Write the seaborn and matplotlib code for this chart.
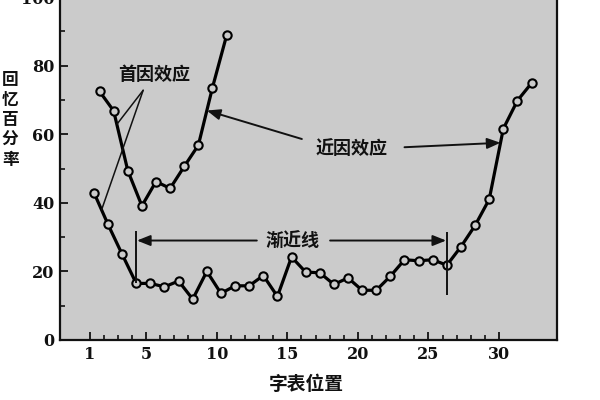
import numpy as np
import seaborn as sns
import matplotlib.pyplot as plt
from matplotlib.ticker import FixedLocator

# serial position curves
main_pos = list(range(1, 33))
main_recall = [43.0, 33.7, 25.0, 16.5, 16.5, 15.5, 17.2, 11.9, 20.0, 13.6,
               15.8, 15.8, 18.8, 12.7, 24.2, 19.8, 19.6, 16.2, 18.1, 14.5,
               14.5, 18.6, 23.4, 23.1, 23.4, 21.8, 27.2, 33.4, 41.0, 61.6,
               69.8, 74.9]
short_pos = list(range(1, 11))
short_recall = [72.5, 66.8, 49.4, 39.1, 46.2, 44.2, 50.6, 56.8, 73.6, 88.8]

x_ticks = [1, 5, 10, 15, 20, 25, 30]
y_ticks = [0, 20, 40, 60, 80, 100]

# the scan draws the curves a little right of the ticks
main_shift = 0.3
short_shift = 0.7

bg = '#cbcbcb'
cjk = ['Noto Sans CJK SC', 'DejaVu Sans']

sns.set_style('ticks')
plt.rcParams['font.family'] = ['DejaVu Serif', 'Noto Sans CJK SC']

fig = plt.figure(figsize=(6, 4), dpi=100)
ax = fig.add_axes([0.1, 0.15, 0.8283, 0.8575])
ax.set_facecolor(bg)

line_kw = dict(color='k', lw=2.3, marker='o', markersize=6,
               markerfacecolor=bg, markeredgecolor='k', markeredgewidth=1.5)
sns.lineplot(x=np.array(main_pos) + main_shift, y=main_recall, ax=ax, **line_kw)
sns.lineplot(x=np.array(short_pos) + short_shift, y=short_recall, ax=ax, **line_kw)

ax.set_xlim(-1.1, 34.1)
ax.set_ylim(0, 100)
ax.xaxis.set_major_locator(FixedLocator(x_ticks))
ax.xaxis.set_minor_locator(FixedLocator(range(1, 31)))
ax.yaxis.set_major_locator(FixedLocator(y_ticks))
ax.yaxis.set_minor_locator(FixedLocator(range(10, 100, 20)))
ax.tick_params(which='major', direction='in', length=6, width=1.3,
               labelsize=11.5, pad=4, colors='#111')
ax.tick_params(which='minor', direction='in', length=3.5, width=1.2, colors='#111')
for lab in ax.get_xticklabels() + ax.get_yticklabels():
    lab.set_fontweight('bold')
for s in ax.spines.values():
    s.set_linewidth(1.6)
    s.set_color('#111')
ax.set_xlabel('')
ax.set_ylabel('')

txt = dict(family=cjk, weight='bold', fontsize=13, color='#111', ha='center', va='center')

# primacy effect: two plain lines
ax.text(5.6, 77.4, '首因效应', **txt)
ax.annotate('', xy=(1.85, 38), xytext=(4.79, 72.8),
            arrowprops=dict(arrowstyle='-', lw=1.1, color='#111', shrinkA=0, shrinkB=0))
ax.annotate('', xy=(2.95, 63), xytext=(4.79, 72.8),
            arrowprops=dict(arrowstyle='-', lw=1.1, color='#111', shrinkA=0, shrinkB=0))

# recency effect
head = dict(arrowstyle='-|>,head_length=0.5,head_width=0.2', mutation_scale=16,
            lw=1.4, color='#111', shrinkA=0, shrinkB=0)
ax.text(19.58, 55.8, '近因效应', **txt)
ax.annotate('', xy=(9.3, 66.9), xytext=(16.03, 58.6), arrowprops=head)
ax.annotate('', xy=(30.1, 57.5), xytext=(23.3, 56.2), arrowprops=head)

# asymptote
ax.text(15.4, 28.9, '渐近线', **txt)
x_left = main_pos[3] + main_shift
x_right = main_pos[25] + main_shift
ax.vlines(x_left, main_recall[3], 31.7, color='#111', lw=1.4)
ax.vlines(x_right, 13.2, 31.5, color='#111', lw=1.4)
ax.annotate('', xy=(x_left + 0.05, 29.0), xytext=(12.84, 29.0), arrowprops=head)
ax.annotate('', xy=(x_right - 0.05, 29.0), xytext=(18.03, 29.0), arrowprops=head)

fig.text(0.51, 0.04, '字表位置', family=cjk, weight='bold', fontsize=13.5,
         color='#111', ha='center', va='center')
fig.text(0.017, 0.70, '\n'.join('回忆百分率'), family=cjk, weight='bold', fontsize=12,
         linespacing=1.15, color='#111', ha='center', va='center')

fig.savefig('out.png', dpi=100)
